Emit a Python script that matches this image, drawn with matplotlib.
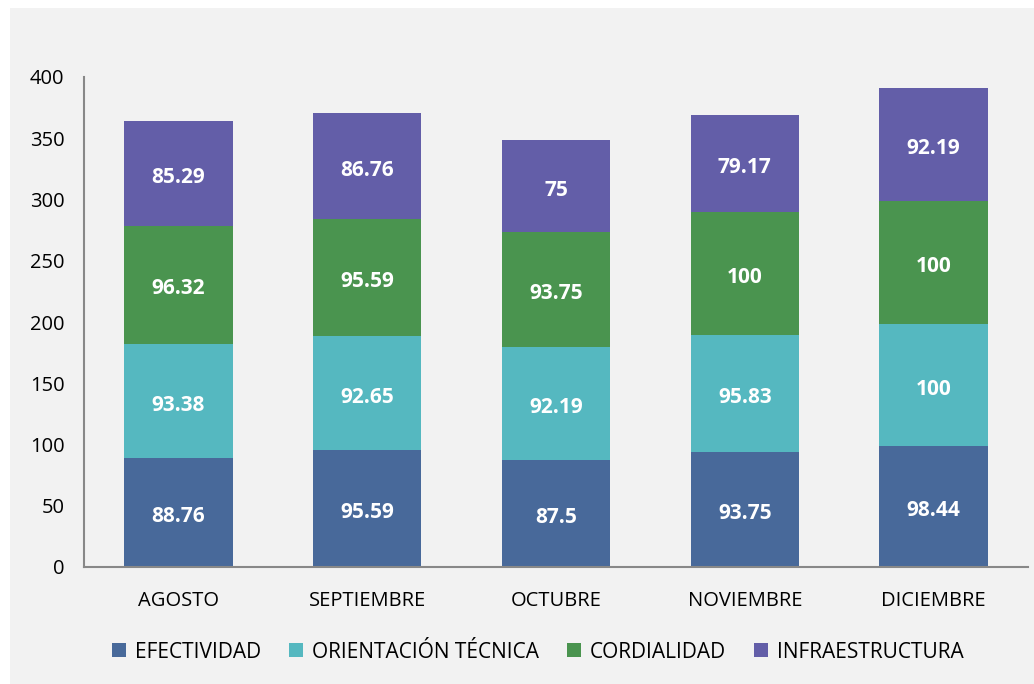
import matplotlib
matplotlib.use("Agg")
import matplotlib.pyplot as plt
from matplotlib.patches import Rectangle
from matplotlib.transforms import offset_copy
import numpy as np

months = ["AGOSTO", "SEPTIEMBRE", "OCTUBRE", "NOVIEMBRE", "DICIEMBRE"]
series_names = ["EFECTIVIDAD", "ORIENTACIÓN TÉCNICA", "CORDIALIDAD", "INFRAESTRUCTURA"]
efectividad = [88.76, 95.59, 87.5, 93.75, 98.44]
orientacion = [93.38, 92.65, 92.19, 95.83, 100]
cordialidad = [96.32, 95.59, 93.75, 100, 100]
infraestructura = [85.29, 86.76, 75, 79.17, 92.19]
yticks = [0, 50, 100, 150, 200, 250, 300, 350, 400]

colors = ["#48699a", "#55b8c0", "#4a944f", "#635ea8"]

plt.rcParams['font.family'] = ['Open Sans', 'DejaVu Sans']

W, H = 1034, 684
fig = plt.figure(figsize=(W/100, H/100), dpi=100)
fig.patch.set_facecolor("white")
bg = Rectangle((10/W, 0), 1 - 10/W, 1 - 8/H, transform=fig.transFigure,
               facecolor="#f2f2f2", edgecolor="none", zorder=-10)
fig.patches.append(bg)

ax = fig.add_axes([84/W, 1 - 567/H, (1028-84)/W, (567-77)/H])
ax.set_facecolor("none")

x = np.arange(len(months))
data = [efectividad, orientacion, cordialidad, infraestructura]
bottom = np.zeros(len(months))
tr = offset_copy(ax.transData, fig=fig, x=0, y=-4, units="dots")
for vals, name, c in zip(data, series_names, colors):
    vals = np.array(vals, dtype=float)
    ax.bar(x, vals, width=0.575, bottom=bottom, color=c, label=name, zorder=2)
    for xi, b, v in zip(x, bottom, vals):
        ax.text(xi, b + v/2, f"{v:g}", ha="center", va="center", color="white",
                fontsize=15, fontweight="bold", zorder=3, transform=tr)
    bottom += vals

ax.set_xlim(-0.5, len(months) - 0.5)
ax.set_ylim(0, 400)
ax.set_yticks(yticks)
ax.set_xticks(x)
ax.set_xticklabels(months)
ax.tick_params(axis="both", length=0, labelsize=14.5, colors="black")
ax.tick_params(axis="x", pad=17)
ax.tick_params(axis="y", pad=14)
for s in ["top", "right"]:
    ax.spines[s].set_visible(False)
for s in ["left", "bottom"]:
    ax.spines[s].set_color("#888888")
    ax.spines[s].set_linewidth(1.5)

leg = ax.legend(loc="upper center", bbox_to_anchor=(0.481, -0.114), ncol=4, frameon=False,
                fontsize=15, handlelength=0.65, handleheight=0.65, handletextpad=0.45,
                columnspacing=1.35)

fig.savefig("out.png", dpi=100)
